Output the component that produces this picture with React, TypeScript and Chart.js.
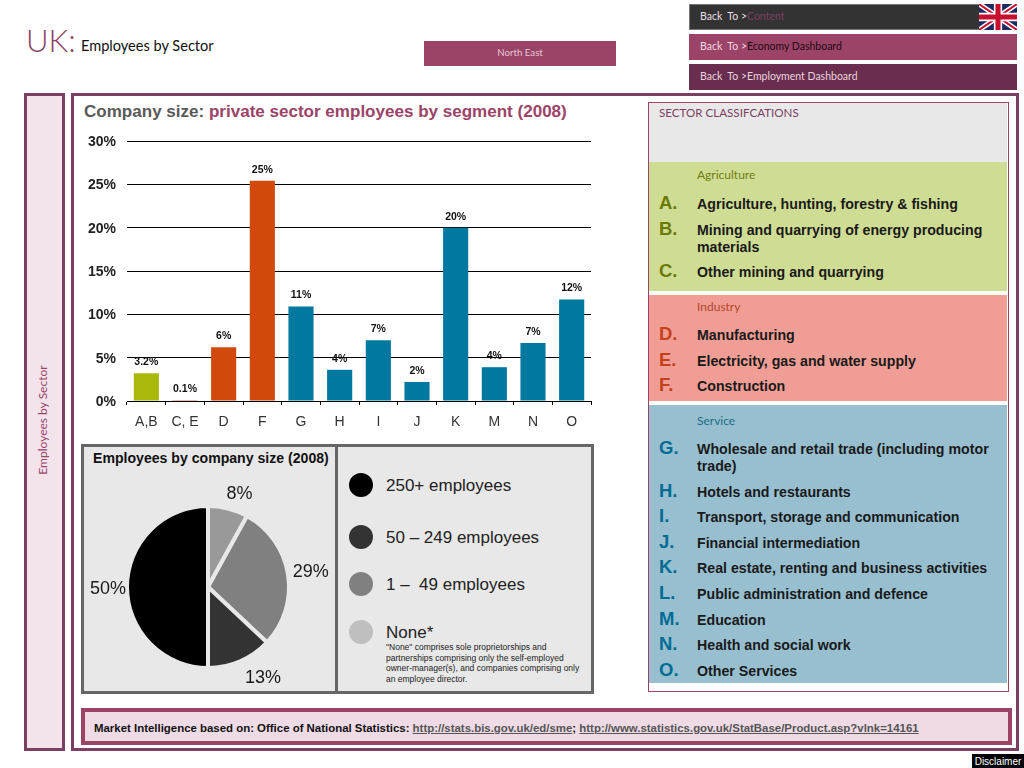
import React, { useEffect, useRef } from "react";
import { Chart, registerables } from "chart.js";

Chart.register(...registerables);

const barCategories = ["A,B", "C, E", "D", "F", "G", "H", "I", "J", "K", "M", "N", "O"];
const barValues = [3.2, 0.1, 6.2, 25.4, 10.9, 3.6, 7.0, 2.2, 20.0, 3.9, 6.7, 11.7];
const barLabels = ["3.2%", "0.1%", "6%", "25%", "11%", "4%", "7%", "2%", "20%", "4%", "7%", "12%"];
const barColors = ["#a9b80a", "#d2490e", "#d2490e", "#d2490e", "#00789f", "#00789f", "#00789f", "#00789f", "#00789f", "#00789f", "#00789f", "#00789f"];

const pieNames = ["None*", "1 –  49 employees", "50 – 249 employees", "250+ employees"];
const pieValues = [8, 29, 13, 50];
const pieLabels = ["8%", "29%", "13%", "50%"];
const pieColors = ["#999999", "#808080", "#333333", "#000000"];

const legendNames = ["250+ employees", "50 – 249 employees", "1 –  49 employees", "None*"];
const legendColors = ["#000000", "#333333", "#808080", "#bfbfbf"];
const noteLines = [
  "\"None\" comprises sole proprietorships and",
  "partnerships comprising only the self-employed",
  "owner-manager(s), and companies comprising only",
  "an employee director.",
];

const agriculture = [
  ["A.", "Agriculture, hunting, forestry & fishing"],
  ["B.", "Mining and quarrying of energy producing materials"],
  ["C.", "Other mining and quarrying"],
];
const industry = [
  ["D.", "Manufacturing"],
  ["E.", "Electricity, gas and water supply"],
  ["F.", "Construction"],
];
const service = [
  ["G.", "Wholesale and retail trade (including motor trade)"],
  ["H.", "Hotels and restaurants"],
  ["I.", "Transport, storage and communication"],
  ["J.", "Financial intermediation"],
  ["K.", "Real estate, renting and business activities"],
  ["L.", "Public administration and defence"],
  ["M.", "Education"],
  ["N.", "Health and social work"],
  ["O.", "Other Services"],
];

const HEAD = "Lato, 'Open Sans', sans-serif";
const BODY = "'Liberation Sans', Arial, sans-serif";

const box = (x: number, y: number, w: number, h: number, extra: React.CSSProperties = {}): React.CSSProperties => ({
  position: "absolute",
  left: x,
  top: y,
  width: w,
  height: h,
  boxSizing: "border-box",
  ...extra,
});

const label = (x: number, cy: number, extra: React.CSSProperties = {}): React.CSSProperties => ({
  position: "absolute",
  left: x,
  top: cy - 12,
  height: 24,
  lineHeight: "24px",
  whiteSpace: "pre",
  ...extra,
});

function Group(props: { top: number; height: number; bg: string; title: string; titleColor: string; letterColor: string; rows: string[][]; headGap: number; listGap: number; rowGap: number }) {
  return (
    <div style={box(649, props.top, 358, props.height, { background: props.bg })}>
      <div style={{ position: "absolute", left: 48, top: props.headGap, fontFamily: HEAD, fontSize: 12, lineHeight: "16px", color: props.titleColor }}>{props.title}</div>
      <div style={{ position: "absolute", left: 0, top: props.listGap, width: 358 }}>
        {props.rows.map(([letter, text]) => (
          <div key={letter} style={{ position: "relative", paddingLeft: 48, width: 296, marginBottom: props.rowGap, fontFamily: BODY, fontWeight: 700, fontSize: 14.2, lineHeight: "17px", color: "#1a1a1a" }}>
            <span style={{ position: "absolute", left: 10, top: -2, fontSize: 18.5, lineHeight: "17px", color: props.letterColor }}>{letter}</span>
            {text}
          </div>
        ))}
      </div>
    </div>
  );
}

function Flag() {
  return (
    <svg viewBox="0 0 60 40" preserveAspectRatio="none" style={{ position: "absolute", left: 979, top: 4, width: 38, height: 26 }}>
      <rect width="60" height="40" fill="#1f2a63" />
      <path d="M0 0L60 40M60 0L0 40" stroke="#fff" strokeWidth="8" />
      <path d="M0 0L60 40M60 0L0 40" stroke="#c8102e" strokeWidth="3" />
      <path d="M30 0V40M0 20H60" stroke="#fff" strokeWidth="13" />
      <path d="M30 0V40M0 20H60" stroke="#c8102e" strokeWidth="8" />
    </svg>
  );
}

export default function App() {
  const barRef = useRef<HTMLCanvasElement>(null);
  const pieRef = useRef<HTMLCanvasElement>(null);

  useEffect(() => {
    document.body.style.background = "#fff";

    const barText = {
      id: "barText",
      afterDatasetsDraw(chart: any) {
        const { ctx } = chart;
        const meta = chart.getDatasetMeta(0);
        ctx.save();
        ctx.font = `bold 10.5px ${BODY}`;
        ctx.fillStyle = "#111";
        ctx.textAlign = "center";
        ctx.textBaseline = "middle";
        meta.data.forEach((el: any, i: number) => ctx.fillText(barLabels[i], el.x, el.y - 11));
        ctx.restore();
      },
    };

    const bar = new Chart(barRef.current!, {
      type: "bar",
      data: {
        labels: barCategories,
        datasets: [{ data: barValues, backgroundColor: barColors, barPercentage: 0.65, categoryPercentage: 1 }],
      },
      options: {
        animation: false,
        responsive: false,
        layout: { padding: { top: 11, right: 9, left: 0, bottom: 0 } },
        plugins: { legend: { display: false }, title: { display: false }, tooltip: { enabled: false } },
        scales: {
          x: {
            afterFit: (s: any) => {
              s.height = 34;
              s.paddingLeft = 0;
              s.paddingRight = 0;
            },
            grid: { display: true, drawOnChartArea: false, drawTicks: true, tickLength: 4, color: "#000", offset: true },
            border: { color: "#000", width: 1 },
            ticks: { color: "#333", font: { family: BODY, size: 14 }, padding: 9, maxRotation: 0, autoSkip: false },
          },
          y: {
            min: 0,
            max: 30,
            afterFit: (s: any) => {
              s.width = 47;
              s.paddingTop = 0;
              s.paddingBottom = 0;
            },
            grid: { color: "#000", lineWidth: 1, drawTicks: false },
            border: { display: false },
            ticks: {
              stepSize: 5,
              padding: 11,
              labelOffset: 1,
              color: "#222",
              font: { family: BODY, size: 14, weight: "bold" },
              callback: (v: any) => `${v}%`,
            },
          },
        },
      },
      plugins: [barText],
    } as any);

    const pieText = {
      id: "pieText",
      afterDatasetsDraw(chart: any) {
        const { ctx } = chart;
        const meta = chart.getDatasetMeta(0);
        const nudge = [[6, 7], [1, 1], [14, -3], [3, 2]];
        ctx.save();
        ctx.font = `18px ${BODY}`;
        ctx.fillStyle = "#1a1a1a";
        ctx.textAlign = "center";
        ctx.textBaseline = "middle";
        meta.data.forEach((el: any, i: number) => {
          const mid = (el.startAngle + el.endAngle) / 2;
          ctx.fillText(pieLabels[i], el.x + Math.cos(mid) * 103 + nudge[i][0], el.y + Math.sin(mid) * 103 + nudge[i][1]);
        });
        ctx.restore();
      },
    };

    const pie = new Chart(pieRef.current!, {
      type: "pie",
      data: {
        labels: pieNames,
        datasets: [{ data: pieValues, backgroundColor: pieColors, borderColor: "#e8e8e8", borderWidth: 4 }],
      },
      options: {
        animation: false,
        responsive: false,
        radius: 81,
        layout: { padding: 0 },
        plugins: { legend: { display: false }, tooltip: { enabled: false } },
      },
      plugins: [pieText],
    } as any);

    return () => {
      bar.destroy();
      pie.destroy();
    };
  }, []);

  const frame = "#7b3f61";

  return (
    <div style={{ position: "absolute", left: 0, top: 0, width: 1024, height: 768, overflow: "hidden", background: "#fff" }}>
      <div style={label(26, 40, { fontFamily: HEAD, fontWeight: 300, fontSize: 31, color: "#8c3f63" })}>UK:</div>
      <div style={label(81, 45, { fontFamily: HEAD, fontSize: 16, color: "#111", transform: "scaleX(0.91)", transformOrigin: "left center" })}>Employees by Sector</div>

      <div style={box(424, 41, 192, 25, { background: "#9c4368", color: "#e6c6d3", fontFamily: HEAD, fontSize: 9.7, lineHeight: "23px", textAlign: "center" })}>North East</div>

      <div style={box(689, 4, 328, 26, { background: "#333333", border: "1px solid #777" })} />
      <div style={box(689, 34, 328, 26, { background: "#9c4368" })} />
      <div style={box(689, 64, 328, 26, { background: "#682d4f" })} />
      <div style={label(700, 16, { fontFamily: HEAD, fontSize: 10.5, color: "#e8dfe4" })}>
        Back{"  "}To &gt;<span style={{ color: "#7b3f61" }}>Content</span>
      </div>
      <div style={label(700, 46, { fontFamily: HEAD, fontSize: 10.5, color: "#f0d8e2" })}>
        Back{"  "}To &gt;<span style={{ color: "#1c0a14" }}>Economy Dashboard</span>
      </div>
      <div style={label(700, 76, { fontFamily: HEAD, fontSize: 10.5, color: "#e8d4de" })}>Back{"  "}To &gt;Employment Dashboard</div>
      <Flag />

      <div style={box(24, 93, 41, 658, { background: "#f3e4ec", border: `3px solid ${frame}` })} />
      <div style={{ position: "absolute", left: 42, top: 420, transform: "translate(-50%,-50%) rotate(-90deg)", whiteSpace: "nowrap", fontFamily: HEAD, fontSize: 12, color: "#9c4368" }}>Employees by Sector</div>
      <div style={box(71, 93, 948, 658, { border: `3px solid ${frame}` })} />

      <div style={label(84, 112, { fontFamily: BODY, fontWeight: 700, fontSize: 17.05, color: "#595959" })}>
        Company size: <span style={{ color: "#9c4368" }}>private sector employees by segment (2008)</span>
      </div>

      <canvas ref={barRef} width={520} height={305} style={{ position: "absolute", left: 80, top: 130, width: 520, height: 305 }} />

      <div style={box(81, 444, 513, 250, { background: "#e8e8e8", border: "3px solid #666" })} />
      <div style={box(335, 444, 3, 250, { background: "#666" })} />
      <div style={label(93, 458, { fontFamily: BODY, fontWeight: 700, fontSize: 14.1, color: "#111" })}>Employees by company size (2008)</div>
      <canvas ref={pieRef} width={246} height={206} style={{ position: "absolute", left: 85, top: 484, width: 246, height: 206 }} />

      {legendNames.map((name, i) => {
        const cy = [485, 537, 584, 632][i];
        return (
          <React.Fragment key={name}>
            <div style={box(349, cy - 12, 24, 24, { borderRadius: "50%", background: legendColors[i] })} />
            <div style={label(386, cy + 1, { fontFamily: BODY, fontSize: 17, color: "#222" })}>{name}</div>
          </React.Fragment>
        );
      })}
      <div style={{ position: "absolute", left: 386, top: 642, fontFamily: BODY, fontSize: 8.5, lineHeight: "10.5px", color: "#222", whiteSpace: "nowrap" }}>
        {noteLines.map((l) => (
          <div key={l}>{l}</div>
        ))}
      </div>

      <div style={box(648, 102, 361, 590, { background: "#fff", border: "1px solid #9c4368" })} />
      <div style={box(649, 103, 358, 59, { background: "#e8e8e8" })} />
      <div style={{ position: "absolute", left: 659, top: 105, fontFamily: HEAD, fontSize: 11.6, lineHeight: "16px", color: "#7b3f61" }}>SECTOR CLASSIFCATIONS</div>
      <Group top={162} height={129} bg="#cfdc94" title="Agriculture" titleColor="#6f7f10" letterColor="#6b7a00" rows={agriculture} headGap={5} listGap={34} rowGap={8.7} />
      <Group top={295} height={106} bg="#f09e95" title="Industry" titleColor="#b5472a" letterColor="#c4421a" rows={industry} headGap={4} listGap={32} rowGap={8.7} />
      <Group top={405} height={278} bg="#97bfcf" title="Service" titleColor="#1c6f85" letterColor="#006c94" rows={service} headGap={8} listGap={36} rowGap={8.6} />

      <div style={box(81, 708, 931, 37, { background: "#eedbe5", border: "4px solid #9c4368" })} />
      <div style={label(94, 728, { fontFamily: BODY, fontWeight: 700, fontSize: 11.43, color: "#111" })}>
        Market Intelligence based on: Office of National Statistics: <span style={{ color: "#555", textDecoration: "underline" }}>http://stats.bis.gov.uk/ed/sme</span>; <span style={{ color: "#555", textDecoration: "underline" }}>http://www.statistics.gov.uk/StatBase/Product.asp?vlnk=14161</span>
      </div>
      <div style={box(972, 754, 52, 14, { background: "#000", color: "#fff", fontFamily: BODY, fontSize: 10, lineHeight: "15px", textAlign: "center" })}>Disclaimer</div>
    </div>
  );
}
